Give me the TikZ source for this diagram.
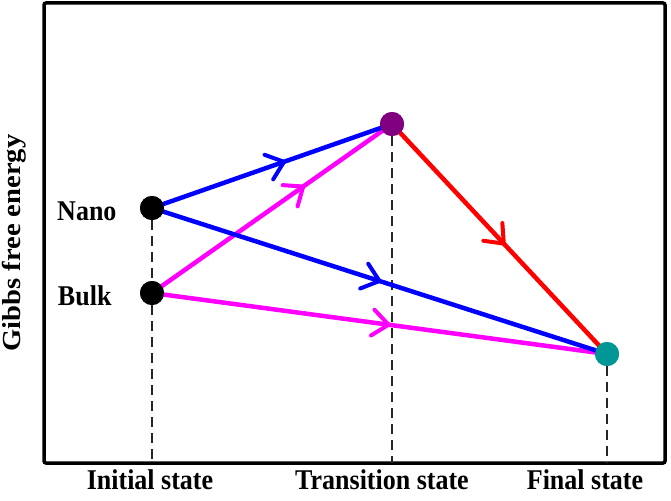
\documentclass[tikz,border=0pt]{standalone}
\usepackage{fontspec}
\setmainfont{Liberation Serif}
\usetikzlibrary{decorations.markings}
\definecolor{nanoblue}{RGB}{0,0,255}
\definecolor{bulkmag}{RGB}{255,0,255}
\definecolor{tspurple}{RGB}{128,0,128}
\definecolor{fsteal}{RGB}{0,150,150}
\definecolor{pathred}{RGB}{255,0,0}
\tikzset{
  dot/.style={circle,fill=#1,minimum size=24pt,inner sep=0pt},
  lbl/.style={font=\fontsize{26}{30}\selectfont\bfseries,yscale=1.1},
  drop/.style={black!85,line width=2.6pt,dash pattern=on 10pt off 6pt},
  midarrow/.style={postaction={decorate},decoration={markings,
     mark=at position #1 with {\draw[line width=4pt,line cap=round,line join=miter]
        (-16pt,13pt) -- (0pt,0pt) -- (-16pt,-13pt);}}},
  conn/.style={line width=4.5pt}
}
\begin{document}
\begin{tikzpicture}[x=1pt,y=-1pt]
\useasboundingbox (0,0) rectangle (671,500);
\draw[line width=3.5pt,rounded corners=2pt] (44,3) rectangle (665,463);
% states
\node[dot=black] (nano) at (152,208) {};
\node[dot=black] (bulk) at (152,293) {};
\node[dot=tspurple] (ts) at (392,124) {};
\node[dot=fsteal] (fs) at (607,354) {};
\coordinate (b1) at (152,463);
\coordinate (b2) at (392,463);
\coordinate (b3) at (607,463);
\draw[drop] (nano) -- (bulk);
\draw[drop] (bulk) -- (b1);
\draw[drop] (ts) -- (b2);
\draw[drop] (fs) -- (b3);
% paths
\draw[conn,bulkmag,midarrow=0.63] (bulk.center) -- (ts.center);
\draw[conn,bulkmag,midarrow=0.52] (bulk.center) -- (fs.center);
\draw[conn,nanoblue,midarrow=0.55] (nano.center) -- (ts.center);
\draw[conn,nanoblue,midarrow=0.5] (nano.center) -- (fs.center);
\draw[conn,pathred,midarrow=0.52] (ts.center) -- (fs.center);
\node[dot=black] at (nano) {};
\node[dot=black] at (bulk) {};
\node[dot=tspurple] at (ts) {};
\node[dot=fsteal] at (fs) {};
% labels
\node[lbl,anchor=east] (ln) at (120,211) {Nano};
\node[lbl,anchor=east] (lb) at (115,296) {Bulk};
\node[lbl,anchor=base,rotate=90] (yl) at (20,243) {Gibbs free energy};
\node[lbl,anchor=base] (x1) at (150,489) {Initial state};
\node[lbl,anchor=base] (x2) at (382,489) {Transition state};
\node[lbl,anchor=base] (x3) at (585,489) {Final state};
\end{tikzpicture}
\end{document}
